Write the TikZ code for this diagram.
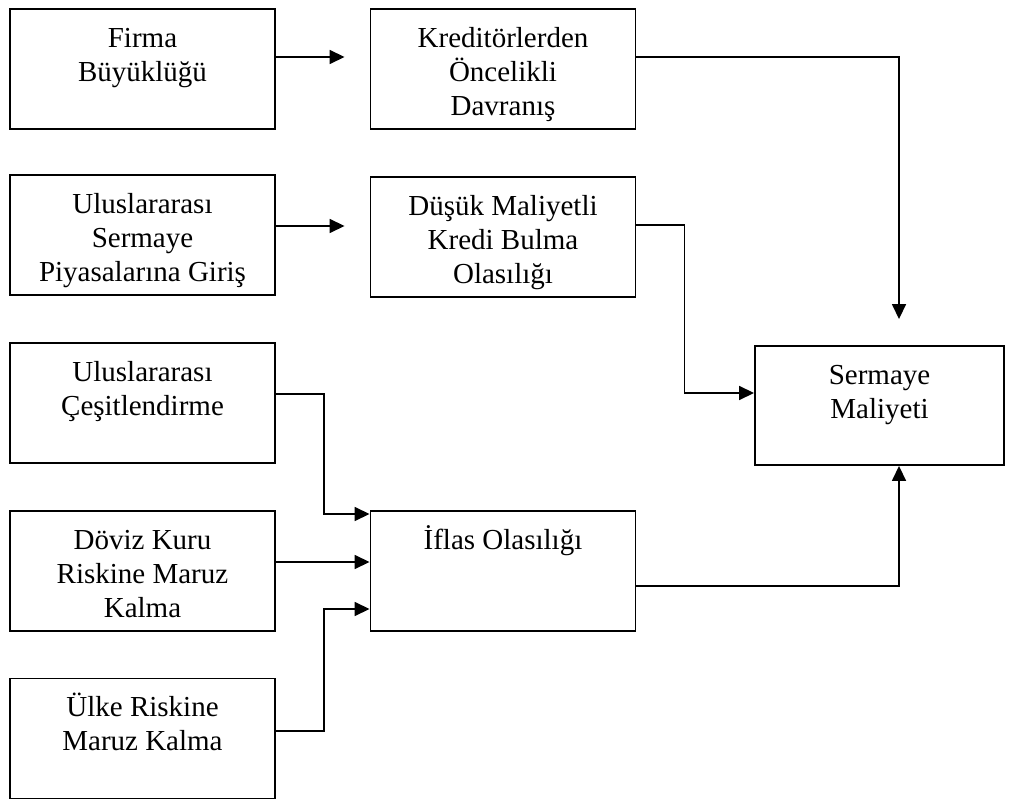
\documentclass[tikz,border=0pt]{standalone}
\usepackage{fontspec}
\setmainfont{Liberation Serif}
\usetikzlibrary{positioning,arrows.meta}

\tikzset{
  kutu/.style={draw, line width=1.9pt, minimum width=265pt, minimum height=120pt, inner sep=0pt},
  yazi/.style={font=\fontsize{29}{34}\selectfont, align=center, inner sep=0pt},
  ok/.style={->, line width=1.6pt}
}

\begin{document}
\begin{tikzpicture}[x=1pt,y=-1pt,>={Triangle[length=15pt,width=14pt]}]
\useasboundingbox (0,0) rectangle (1014,799);

% kutular
\foreach \ad/\x/\y/\metin in {
  firma/142.5/69/{Firma\\Büyüklüğü},
  ulus/142.5/235/{Uluslararası\\Sermaye\\Piyasalarına Giriş},
  cesit/142.5/403/{Uluslararası\\Çeşitlendirme},
  doviz/142.5/571/{Döviz Kuru\\Riskine Maruz\\Kalma},
  ulke/142.5/738.5/{Ülke Riskine\\Maruz Kalma},
  kredi/503/69/{Kreditörlerden\\Öncelikli\\Davranış},
  dusuk/503/237/{Düşük Maliyetli\\Kredi Bulma\\Olasılığı},
  iflas/503/571/{İflas Olasılığı}}
{
\node[kutu] (\ad) at (\x,\y) {};
\node[yazi, below=13pt of \ad.north] (\ad yazi) {\rule{0pt}{26pt}\metin};
}

\node[kutu, minimum width=249pt, minimum height=119pt] (sermaye) at (879.5,405.5) {};
\node[yazi, below=13pt of sermaye.north] (sermaye yazi) {\rule{0pt}{26pt}Sermaye\\Maliyeti};

% oklar
\draw[ok, shorten >=25pt] (firma.east |- 0,57) -- (kredi.west |- 0,57);
\draw[ok, shorten >=25pt] (ulus.east |- 0,226) -- (dusuk.west |- 0,226);
\draw[ok, shorten >=26pt] (kredi.east |- 0,57) -| (sermaye.north -| 899,0);
\draw[ok] (dusuk.east |- 0,225) -- ++(48,0) |- (sermaye.west |- 0,393);
\draw[ok] (cesit.east |- 0,394) -- ++(48,0) |- (iflas.west |- 0,514);
\draw[ok] (doviz.east |- 0,562) -- (iflas.west |- 0,562);
\draw[ok] (ulke.east |- 0,731) -- ++(48,0) |- (iflas.west |- 0,609);
\draw[ok] (iflas.east |- 0,586) -| (sermaye.south -| 899,0);
\end{tikzpicture}
\end{document}
